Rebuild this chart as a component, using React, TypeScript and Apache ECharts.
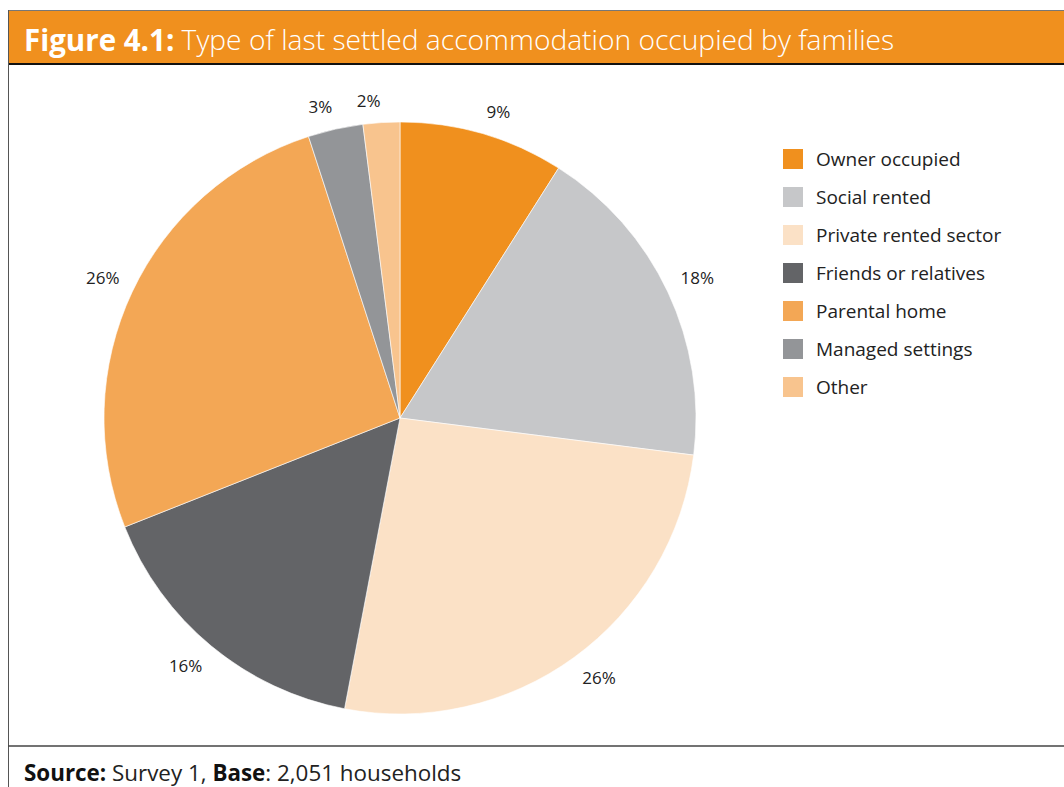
import React, { useEffect, useRef } from "react";
import * as echarts from "echarts";

const categories = [
  "Owner occupied",
  "Social rented",
  "Private rented sector",
  "Friends or relatives",
  "Parental home",
  "Managed settings",
  "Other",
];
const values = [9, 18, 26, 16, 26, 3, 2];
const colors = ["#F0901E", "#C6C7C9", "#FBE1C6", "#636467", "#F3A755", "#939598", "#F8C48E"];

const titleBold = "Figure 4.1:";
const titleRest = " Type of last settled accommodation occupied by families";
const sourceLabel = "Source:";
const sourceText = " Survey 1, ";
const baseLabel = "Base";
const baseText = ": 2,051 households";

const FONT = "'Open Sans', 'Noto Sans', sans-serif";
const CX = 400;
const CY = 418;
const R = 296;
const LABEL_GAP = 14;

export default function App() {
  const ref = useRef<HTMLDivElement>(null);
  useEffect(() => {
    if (!ref.current) return;
    const chart = echarts.init(ref.current, null, { renderer: "svg" });
    const total = values.reduce((a, b) => a + b, 0);
    const mids: number[] = [];
    let acc = 0;
    values.forEach((v) => {
      mids.push(((acc + v / 2) / total) * Math.PI * 2);
      acc += v;
    });
    chart.setOption({
      animation: false,
      backgroundColor: "#ffffff",
      textStyle: { fontFamily: FONT },
      legend: {
        orient: "vertical",
        left: 781,
        top: 147,
        padding: 0,
        itemWidth: 22,
        itemHeight: 22,
        itemGap: 14,
        icon: "rect",
        textStyle: {
          fontSize: 19,
          lineHeight: 22,
          color: "#222222",
          fontFamily: FONT,
          padding: [0, 0, 0, 7],
        },
        data: categories,
      },
      graphic: [
        {
          type: "rect",
          shape: { x: 8, y: 10, width: 1060, height: 54 },
          style: { fill: "#F0901E", stroke: "none" },
          z: 1,
        },
        {
          type: "line",
          shape: { x1: 8, y1: 10.5, x2: 1064, y2: 10.5 },
          style: { stroke: "#777777", lineWidth: 1 },
          z: 2,
        },
        {
          type: "line",
          shape: { x1: 8, y1: 64, x2: 1064, y2: 64 },
          style: { stroke: "#111111", lineWidth: 2 },
          z: 2,
        },
        {
          type: "line",
          shape: { x1: 8.5, y1: 10, x2: 8.5, y2: 787 },
          style: { stroke: "#555555", lineWidth: 1 },
          z: 2,
        },
        {
          type: "line",
          shape: { x1: 8, y1: 746, x2: 1064, y2: 746 },
          style: { stroke: "#444444", lineWidth: 1.5 },
          z: 2,
        },
        {
          type: "text",
          x: 24,
          y: 39,
          z: 3,
          style: {
            text: `{b|${titleBold}}{n|${titleRest}}`,
            verticalAlign: "middle",
            rich: {
              b: { fontSize: 29.5, fontWeight: "bold", fill: "#ffffff", fontFamily: FONT },
              n: { fontSize: 28.2, fontWeight: 300, fill: "#ffffff", fontFamily: FONT },
            },
          },
        },
        {
          type: "text",
          x: 24,
          y: 772,
          z: 3,
          style: {
            text: `{b|${sourceLabel}}{n|${sourceText}}{b|${baseLabel}}{n|${baseText}}`,
            verticalAlign: "middle",
            rich: {
              b: { fontSize: 22.4, fontWeight: "bold", fill: "#111111", fontFamily: FONT },
              n: { fontSize: 22.4, fill: "#222222", fontFamily: FONT },
            },
          },
        },
      ],
      series: [
        {
          type: "pie",
          center: [CX, CY],
          radius: R,
          startAngle: 90,
          clockwise: true,
          avoidLabelOverlap: false,
          color: colors,
          itemStyle: { borderColor: "#ffffff", borderWidth: 0.6 },
          label: {
            show: true,
            position: "outside",
            formatter: "{c}%",
            fontSize: 17,
            color: "#222222",
            fontFamily: FONT,
          },
          labelLine: { show: false, length: 18, length2: 0 },
          labelLayout: (params: any) => {
            const a = mids[params.dataIndex];
            const ux = Math.sin(a);
            const uy = -Math.cos(a);
            const w = params.labelRect.width;
            const h = params.labelRect.height;
            const d = R + LABEL_GAP;
            return {
              x: CX + d * ux + Math.sign(ux) * w / 2,
              y: CY + d * uy + Math.sign(uy) * h / 2,
              align: "center",
              verticalAlign: "middle",
            };
          },
          emphasis: { disabled: true },
          data: categories.map((name, i) => ({ name, value: values[i] })),
        },
      ],
    });
    return () => chart.dispose();
  }, []);
  return (
    <div
      ref={ref}
      style={{ position: "absolute", left: 0, top: 0, width: 1064, height: 787 }}
    />
  );
}
